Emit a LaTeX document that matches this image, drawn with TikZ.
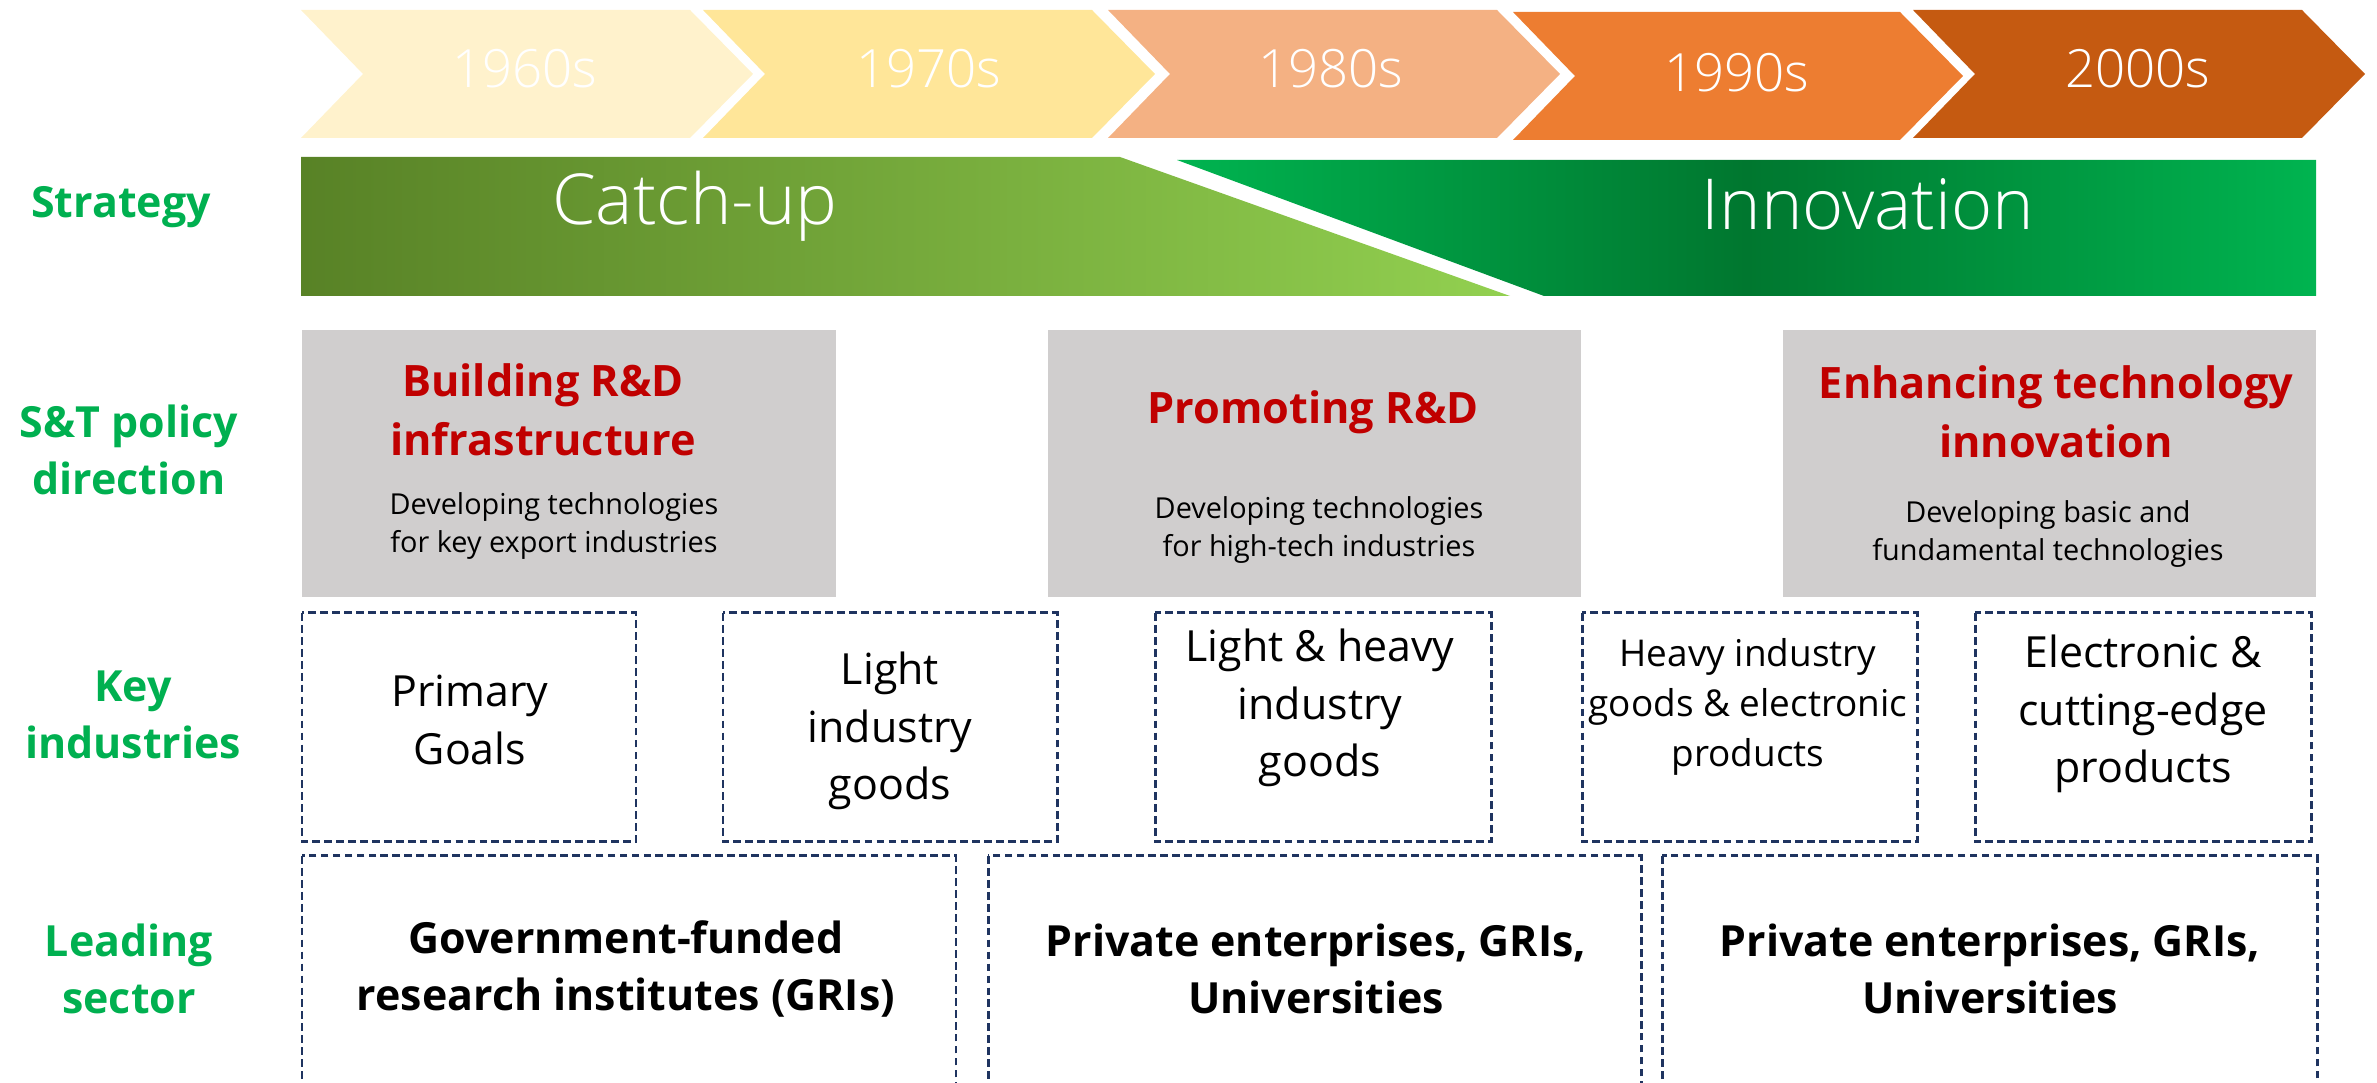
\documentclass[tikz,border=0pt]{standalone}
\usepackage{fontspec}
\setmainfont{Open Sans}
\newfontfamily\lightfont{Open Sans Light}
\usepackage{tikz}

\definecolor{labgreen}{HTML}{00B050}
\definecolor{titlered}{HTML}{C00000}
\definecolor{boxgray}{HTML}{D0CECE}
\definecolor{dashnavy}{HTML}{1F3460}
\definecolor{dec60}{HTML}{FFF2CC}
\definecolor{dec70}{HTML}{FFE699}
\definecolor{dec80}{HTML}{F4B183}
\definecolor{dec90}{HTML}{ED7D31}
\definecolor{dec00}{HTML}{C55A11}
\definecolor{catchdark}{HTML}{588226}
\definecolor{catchlight}{HTML}{92D050}
\definecolor{innolight}{HTML}{00B450}
\definecolor{innodark}{HTML}{00772F}

\begin{document}
\begin{tikzpicture}[x=0.01cm,y=-0.01cm]
\tikzset{decade/.style = {text=white, inner sep=0pt, font=\lightfont\fontsize{15}{18}\selectfont}}
\tikzset{phase/.style = {text=white, inner sep=0pt, font=\lightfont\fontsize{20}{24}\selectfont}}
\tikzset{rowlabel/.style = {text=labgreen, inner sep=0pt, align=center, font=\bfseries\fontsize{12.2}{16}\selectfont}}
\tikzset{policytitle/.style = {text=titlered, inner sep=0pt, align=center, font=\bfseries\fontsize{12.3}{16.8}\selectfont}}
\tikzset{policysub/.style = {inner sep=0pt, align=center, font=\fontsize{8.2}{10.8}\selectfont}}
\tikzset{industry/.style = {inner sep=0pt, align=center, font=\fontsize{12.2}{16.4}\selectfont}}
\tikzset{sector/.style = {inner sep=0pt, align=center, font=\bfseries\fontsize{12.2}{16.4}\selectfont}}
\tikzset{dashbox/.style = {draw=dashnavy, line width=0.85pt, dash pattern=on 2.2pt off 1.2pt}}

\useasboundingbox (0,0) rectangle (2377,1083);
\clip (0,0) rectangle (2377,1083);

% decade arrows
\fill[dec60] (301,10) -- (690,10) -- (753,74) -- (690,138) -- (301,138) -- (363,74) -- cycle;
\fill[dec70] (703,10) -- (1092,10) -- (1155,74) -- (1092,138) -- (703,138) -- (765,74) -- cycle;
\fill[dec80] (1108,10) -- (1497,10) -- (1560,74) -- (1497,138) -- (1108,138) -- (1170,74) -- cycle;
\fill[dec90] (1513,12) -- (1900,12) -- (1963,76) -- (1900,140) -- (1513,140) -- (1575,76) -- cycle;
\fill[dec00] (1913,10) -- (2302,10) -- (2365,74) -- (2302,138) -- (1913,138) -- (1975,74) -- cycle;

\node[decade] (d60) at (525,69) {1960s};
\node[decade] (d70) at (929,69) {1970s};
\node[decade] (d80) at (1331,69) {1980s};
\node[decade] (d90) at (1737,73) {1990s};
\node[decade] (d00) at (2138,69) {2000s};

% strategy bars
\shade[left color=catchdark, right color=catchlight]
  (301,157) -- (1120,157) -- (1510,296) -- (301,296) -- cycle;
\shade[left color=innolight, right color=innolight, middle color=innodark]
  (1177,160) -- (2316,160) -- (2316,296) -- (1544,296) -- cycle;

\node[phase] (catchup) at (695,206) {Catch-up};
\node[phase] (innov) at (1868,204) {Innovation};

% row labels
\node[rowlabel] (strategy) at (121,207) {Strategy};
\node[rowlabel] (policy) at (129,450) {S\&T policy\\direction};
\node[rowlabel] (keyind) at (133,715) {Key\\industries};
\node[rowlabel] (leading) at (129,969) {Leading\\sector};

% policy boxes
\fill[boxgray] (302,330) rectangle (836,597);
\fill[boxgray] (1048,330) rectangle (1581,597);
\fill[boxgray] (1783,330) rectangle (2316,597);

\node[policytitle] (pt1) at (543,410) {Building R\&D\\infrastructure};
\node[policysub] (ps1) at (554,526) {Developing technologies\\for key export industries};
\node[policytitle] (pt2) at (1313,412) {Promoting R\&D};
\node[policysub] (ps2) at (1319,530) {Developing technologies\\for high-tech industries};
\node[policytitle] (pt3) at (2056,412) {Enhancing technology\\innovation};
\node[policysub] (ps3) at (2048,534) {Developing basic and\\fundamental technologies};

% key industries
\draw[dashbox] (302,613) rectangle (636,842);
\draw[dashbox] (723,613) rectangle (1057,842);
\draw[dashbox] (1155,613) rectangle (1491,842);
\draw[dashbox] (1582,613) rectangle (1917,842);
\draw[dashbox] (1975,613) rectangle (2311,842);

\node[industry] (ind1) at (470,720) {Primary\\Goals};
\node[industry] (ind2) at (890,731) {Light\\industry\\goods};
\node[industry] (ind3) at (1320,708) {Light \& heavy\\industry\\goods};
\node[industry, font=\fontsize{10.5}{14.2}\selectfont] (ind4) at (1748,707) {Heavy industry\\goods \& electronic\\products};
\node[industry] (ind5) at (2143,714) {Electronic \&\\cutting-edge\\products};

% leading sector
\draw[dashbox] (302,856) rectangle (956,1100);
\draw[dashbox] (988,856) rectangle (1641,1100);
\draw[dashbox] (1662,856) rectangle (2317,1100);

\node[sector] (sec1) at (626,969) {Government-funded\\research institutes (GRIs)};
\node[sector] (sec2) at (1316,969) {Private enterprises, GRIs,\\Universities};
\node[sector] (sec3) at (1990,969) {Private enterprises, GRIs,\\Universities};

\end{tikzpicture}
\end{document}
